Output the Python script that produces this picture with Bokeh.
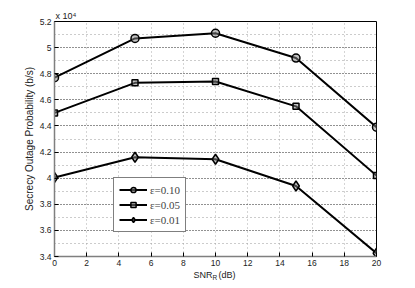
from bokeh.plotting import figure
from bokeh.models import (FixedTicker, Label, Legend, LegendItem, Range1d, Title)
from bokeh.embed import file_html
from bokeh.resources import INLINE

snr = [0, 5, 10, 15, 20]
eps010 = [4.77, 5.07, 5.11, 4.92, 4.39]
eps005 = [4.50, 4.73, 4.74, 4.55, 4.02]
eps001 = [4.005, 4.16, 4.145, 3.94, 3.425]
series_labels = ["ε=0.10", "ε=0.05", "ε=0.01"]
xticks = [0, 2, 4, 6, 8, 10, 12, 14, 16, 18, 20]
yticks = [3.4, 3.6, 3.8, 4.0, 4.2, 4.4, 4.6, 4.8, 5.0, 5.2]
ytick_labels = ["3.4", "3.6", "3.8", "4", "4.2", "4.4", "4.6", "4.8", "5", "5.2"]
yminor = [3.5, 3.7, 3.9, 4.1, 4.3, 4.5, 4.7, 4.9, 5.1]

p = figure(width=407, height=280, output_backend="svg", toolbar_location=None,
           x_range=Range1d(0, 20), y_range=Range1d(3.4, 5.2),
           min_border_left=54, min_border_right=31, min_border_top=21, min_border_bottom=24)
p.outline_line_color = "black"
p.outline_line_width = 1

font = "Liberation Sans"
for ax in (p.xaxis[0], p.yaxis[0]):
    ax.major_tick_in = 4
    ax.major_tick_out = 0
    ax.minor_tick_in = 0
    ax.minor_tick_out = 0
    ax.axis_line_color = "#7f7f7f"
    ax.axis_line_width = 1.5
    ax.major_tick_line_color = "black"
    ax.major_label_text_font = font
    ax.major_label_text_font_size = "8.5px"
    ax.major_label_text_color = "#222222"

p.xaxis[0].ticker = FixedTicker(ticks=xticks)
p.yaxis[0].ticker = FixedTicker(ticks=yticks, minor_ticks=yminor)
p.yaxis[0].major_label_overrides = {t: s for t, s in zip(yticks, ytick_labels)}
p.xaxis[0].major_label_standoff = 3
p.yaxis[0].major_label_standoff = 3
p.yaxis[0].axis_label = "Secrecy Outage Probability (b/s)"
p.yaxis[0].axis_label_text_font = font
p.yaxis[0].axis_label_text_font_size = "10px"
p.yaxis[0].axis_label_text_font_style = "normal"
p.yaxis[0].axis_label_text_color = "#222222"
p.yaxis[0].axis_label_standoff = 2

p.xgrid.grid_line_color = "#aaaaaa"
p.xgrid.grid_line_dash = "1 3"
p.ygrid.grid_line_color = "#222222"
p.ygrid.grid_line_dash = "1 2"
p.ygrid.minor_grid_line_color = "#999999"
p.ygrid.minor_grid_line_dash = "1 3"

r1 = p.line(snr, eps010, line_color="black", line_width=2)
m1 = p.scatter(snr, eps010, marker="circle", size=8, fill_color="#888888", fill_alpha=0.5,
               line_color="black", line_width=1.5)
r2 = p.line(snr, eps005, line_color="black", line_width=2)
m2 = p.scatter(snr, eps005, marker="square", size=6, fill_color="#888888", fill_alpha=0.5,
               line_color="black", line_width=1.5)
r3 = p.line(snr, eps001, line_color="black", line_width=2)
m3 = p.scatter(snr, eps001, marker="diamond", size=10, fill_color="#888888", fill_alpha=0.5,
               line_color="black", line_width=1.5)
items = [LegendItem(label=series_labels[0], renderers=[r1, m1]),
         LegendItem(label=series_labels[1], renderers=[r2, m2]),
         LegendItem(label=series_labels[2], renderers=[r3, m3])]
legend = Legend(items=items, location=(59, 24), border_line_color="black",
                border_line_width=1.5, label_text_font="Liberation Serif",
                label_text_font_size="11px", glyph_width=28, glyph_height=13,
                label_height=13, spacing=2, padding=5, margin=0, label_standoff=3,
                background_fill_alpha=1)
p.add_layout(legend, "center")

# "x 10^4" multiplier as a title above the frame
p.add_layout(Title(text="x 10⁴", align="left", offset=1, text_font=font,
                   text_font_size="9px", text_font_style="normal",
                   text_color="#222222", standoff=2), "above")

# x axis label with subscript R (side panels so it is not clipped to the frame)
lab_kw = dict(text_font=font, text_color="#222222", text_baseline="middle")
p.add_layout(Label(x=139 / 16.1, y=3.4 - 18 / 130, text="SNR", text_font_size="9px", **lab_kw), "left")
p.add_layout(Label(x=158 / 16.1, y=3.4 - 21 / 130, text="R", text_font_size="6.5px", **lab_kw), "above")
p.add_layout(Label(x=164 / 16.1, y=3.4 - 18 / 130, text="(dB)", text_font_size="9px", **lab_kw), "right")

open("out.html", "w").write(file_html(p, INLINE))
